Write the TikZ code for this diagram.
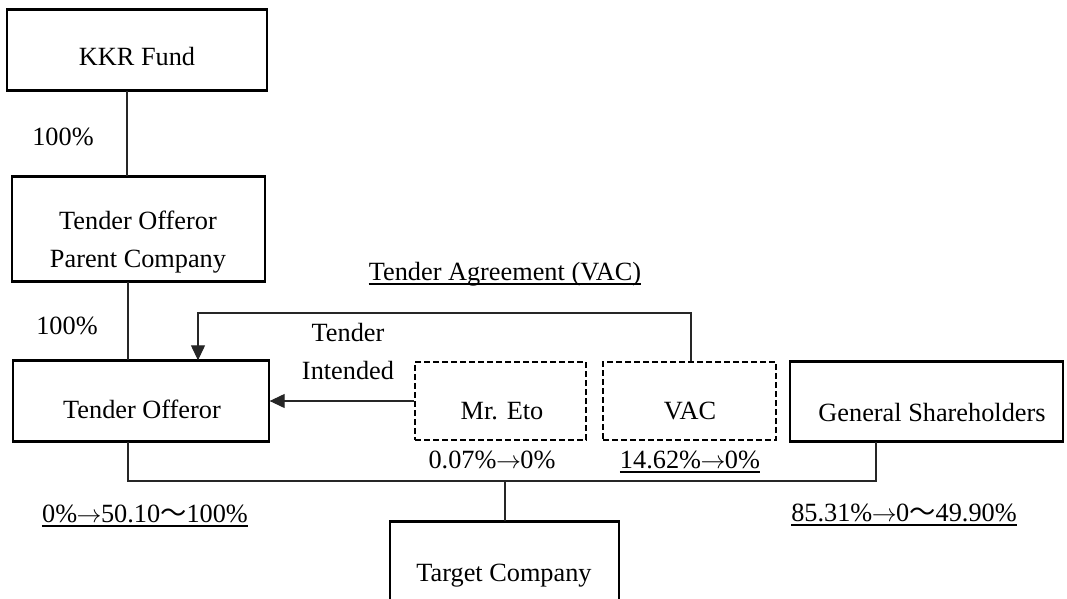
\documentclass[tikz,border=0pt]{standalone}
\usepackage{fontspec}
\setmainfont{Liberation Serif}
\newfontfamily\cjkfont{Noto Sans CJK JP}
\usetikzlibrary{arrows.meta,calc}
\newcommand{\wavech}{{\cjkfont ～}}
\newcommand{\arr}{\kern-0.5pt$\rightarrow$\kern-0.5pt}
\newcommand{\tbthick}[1]{\draw[line width=2.6pt] (#1.north west) -- (#1.north east) (#1.south west) -- (#1.south east);}
\newcommand{\ulnode}[1]{\draw[line width=1.3pt] ([yshift=-4pt]#1.base west) -- ([yshift=-4pt]#1.base east);}
\begin{document}
\begin{tikzpicture}[x=1pt,y=-1pt,
  every node/.style={font=\fontsize{26.3}{30}\selectfont},
  solidbox/.style={draw, line width=1.3pt, inner sep=0pt},
  dashbox/.style={draw, line width=2pt, dash pattern=on 6pt off 3pt, inner sep=0pt},
  txt/.style={inner sep=0pt, anchor=base},
  conn/.style={line width=1.1pt, draw=black!85},
  tip/.style={-{Triangle[length=15pt,width=14pt]}}]
\useasboundingbox (0,0) rectangle (1067,599);
\begin{scope}
\clip (0,0) rectangle (1067,599);
% boxes
\node[solidbox, minimum width=260pt, minimum height=80pt] (kkr) at (137,50) {};
\node[solidbox, minimum width=253pt, minimum height=104pt] (parent) at (138.5,229) {};
\node[solidbox, minimum width=256pt, minimum height=80pt] (to) at (141,401) {};
\node[dashbox, minimum width=171pt, minimum height=78pt] (eto) at (500.5,401) {};
\node[dashbox, minimum width=173pt, minimum height=78pt] (vac) at (689.5,401) {};
\node[solidbox, minimum width=273pt, minimum height=79pt] (gs) at (926.5,401.5) {};
\node[solidbox, minimum width=229pt, minimum height=84pt] (tc) at (504.5,564) {};
\tbthick{kkr}\tbthick{parent}\tbthick{to}\tbthick{gs}\tbthick{tc}
% box texts
\node[txt] (tkkr) at (137,66) {KKR Fund};
\node[txt] (tpar1) at (138,229) {Tender Offeror};
\node[txt] (tpar2) at (138,267) {Parent Company};
\node[txt] (tto) at (142,418) {Tender Offeror};
\node[txt] (teto) at (502,419) {Mr. Eto};
\node[txt] (tvac) at (690,419) {VAC};
\node[txt] (tgs) at (932,421) {General Shareholders};
\node[txt] (ttc) at (504,581) {Target Company};
% helper coordinates
\coordinate (xa) at (127,0);
\coordinate (xb) at (128,0);
\coordinate (xc) at (198,0);
\coordinate (xd) at (691,0);
\coordinate (xe) at (876,0);
\coordinate (xf) at (505,0);
\coordinate (ytop) at (0,313);
\coordinate (ybar) at (0,481);
% connectors
\draw[conn] (kkr.south -| xa) -- (parent.north -| xa);
\draw[conn] (parent.south -| xb) -- (to.north -| xb);
\draw[conn, tip] (vac.north -| xd) -- (ytop -| xd) -- (ytop -| xc) -- (to.north -| xc);
\draw[conn, tip] (eto.west) -- (to.east);
\draw[conn] (to.south -| xb) -- (ybar -| xb) -- (ybar -| xe) -- (gs.south -| xe);
\draw[conn] (ybar -| xf) -- (tc.north -| xf);
% labels
\node[txt] (p1) at (63,146) {100\%};
\node[txt] (p2) at (67,334) {100\%};
\node[txt] (ten1) at (348,341) {Tender};
\node[txt] (ten2) at (348,379) {Intended};
\node[txt] (agr) at (505,280) {Tender Agreement (VAC)};
\node[txt] (seto) at (492,468) {0.07\%\arr 0\%};
\node[txt] (svac) at (690,468) {14.62\%\arr 0\%};
\node[txt] (sto) at (145,522) {0\%\arr 50.10\wavech 100\%};
\node[txt] (sgs) at (904,521) {85.31\%\arr 0\wavech 49.90\%};
\ulnode{agr}\ulnode{svac}\ulnode{sto}\ulnode{sgs}
\end{scope}
\end{tikzpicture}
\end{document}
